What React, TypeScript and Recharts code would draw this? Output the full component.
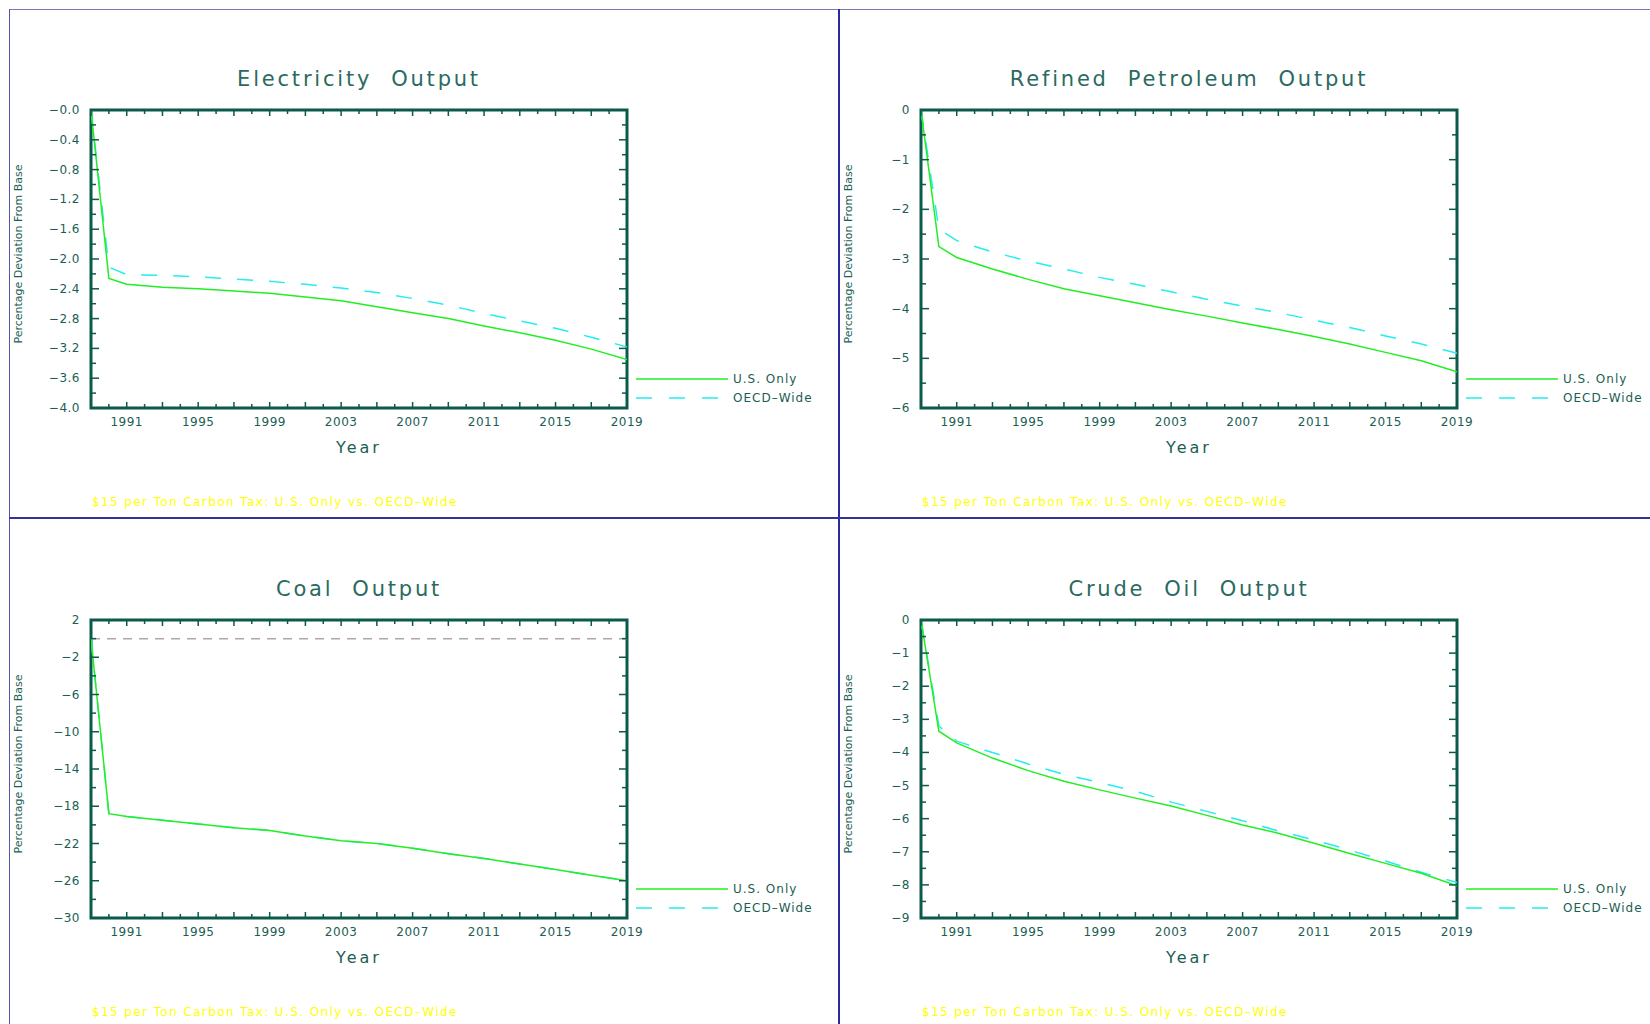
import { Legend, Line, LineChart, ReferenceArea, ReferenceLine, XAxis, YAxis } from "recharts"

const years = [1989, 1990, 1991, 1993, 1995, 1997, 1999, 2001, 2003, 2005, 2007, 2009, 2011, 2013, 2015, 2017, 2019]
const yearLabels = [1991, 1995, 1999, 2003, 2007, 2011, 2015, 2019]

const elecUS = [0, -2.26, -2.34, -2.38, -2.4, -2.43, -2.46, -2.51, -2.56, -2.64, -2.72, -2.8, -2.9, -2.99, -3.09, -3.21, -3.35]
const elecOECD = [0, -2.11, -2.21, -2.22, -2.24, -2.27, -2.3, -2.34, -2.39, -2.45, -2.53, -2.62, -2.73, -2.83, -2.93, -3.05, -3.18]
const elecLabels = [0, -0.4, -0.8, -1.2, -1.6, -2.0, -2.4, -2.8, -3.2, -3.6, -4.0]

const petUS = [0, -2.75, -2.97, -3.2, -3.41, -3.6, -3.74, -3.88, -4.02, -4.15, -4.29, -4.42, -4.56, -4.71, -4.88, -5.05, -5.27]
const petOECD = [0, -2.4, -2.63, -2.86, -3.04, -3.2, -3.37, -3.51, -3.66, -3.81, -3.95, -4.08, -4.23, -4.38, -4.55, -4.71, -4.9]
const petLabels = [0, -1, -2, -3, -4, -5, -6]

const coalUS = [0, -18.8, -19.1, -19.5, -19.9, -20.3, -20.6, -21.2, -21.7, -22.0, -22.5, -23.1, -23.6, -24.2, -24.8, -25.4, -26.0]
const coalOECD = [0, -18.8, -19.1, -19.5, -19.9, -20.3, -20.6, -21.2, -21.7, -22.0, -22.5, -23.1, -23.6, -24.2, -24.8, -25.4, -26.0]
const coalLabels = [2, -2, -6, -10, -14, -18, -22, -26, -30]

const crudeUS = [0, -3.36, -3.71, -4.17, -4.55, -4.87, -5.13, -5.38, -5.62, -5.9, -6.19, -6.44, -6.74, -7.05, -7.35, -7.65, -8.03]
const crudeOECD = [0, -3.2, -3.66, -4.0, -4.35, -4.66, -4.91, -5.17, -5.5, -5.78, -6.06, -6.37, -6.64, -6.95, -7.28, -7.62, -7.93]
const crudeLabels = [0, -1, -2, -3, -4, -5, -6, -7, -8, -9]

const FOOTER = "$15 per Ton Carbon Tax: U.S. Only vs. OECD\u2013Wide"

const TEAL = "#0b5a4c"
const TXT = "#1b5e54"
const GREEN = "#22ee22"
const CYAN = "#22eeee"
const FONT = "'DejaVu Sans', sans-serif"

const PW = 536
const PH = 298

const allYears: number[] = []
for (let y = 1989; y <= 2019; y++) allYears.push(y)

function minus(s: string) {
  return s.replace("-", "\u2212")
}

function YTick(props: any) {
  const { x, y, payload, labels, fmt } = props
  const v = payload.value
  const major = labels.some((l: number) => Math.abs(l - v) < 1e-6)
  const len = major ? 8 : 5
  return (
    <g>
      <line x1={x} x2={x + len} y1={y} y2={y} stroke={TEAL} strokeWidth={1.5} />
      <line x1={x + PW - len} x2={x + PW} y1={y} y2={y} stroke={TEAL} strokeWidth={1.5} />
      {major && (
        <text x={x - 11} y={y + 4} textAnchor="end" fontSize={12} fill={TXT} fontFamily={FONT} letterSpacing={0.5}>
          {fmt(v)}
        </text>
      )}
    </g>
  )
}

function XTick(props: any) {
  const { x, y, payload } = props
  const v = payload.value
  const len = v % 2 === 1 ? 6 : 4
  const labelled = yearLabels.includes(v)
  return (
    <g>
      <line x1={x} x2={x} y1={y} y2={y - len} stroke={TEAL} strokeWidth={1.5} />
      <line x1={x} x2={x} y1={y - PH} y2={y - PH + len} stroke={TEAL} strokeWidth={1.5} />
      {labelled && (
        <text x={x} y={y + 18} textAnchor="middle" fontSize={12} fill={TXT} fontFamily={FONT} letterSpacing={0.5}>
          {v}
        </text>
      )}
    </g>
  )
}

function LegendBox(props: any) {
  const items = props.payload || []
  return (
    <svg width={200} height={40} style={{ display: "block" }}>
      {items.map((p: any, i: number) => (
        <g key={p.value}>
          <line
            x1={0}
            x2={i === 0 ? 92 : 82}
            y1={8 + 19 * i}
            y2={8 + 19 * i}
            stroke={p.color}
            strokeWidth={1.5}
            strokeDasharray={i === 1 ? "16 17" : undefined}
          />
          <text x={97} y={12 + 19 * i} fontSize={12} fill={TXT} fontFamily={FONT} letterSpacing={1}>
            {p.value}
          </text>
        </g>
      ))}
    </svg>
  )
}

type PanelProps = {
  title: string
  us: number[]
  oecd: number[]
  labels: number[]
  step: number
  fmt: (v: number) => string
  zeroLine?: boolean
  left: number
  top: number
}

function Panel({ title, us, oecd, labels, step, fmt, zeroLine, left, top }: PanelProps) {
  const data = years.map((year, i) => ({ year, us: us[i], oecd: oecd[i] }))
  const hi = labels[0]
  const lo = labels[labels.length - 1]
  const ticks: number[] = []
  for (let v = hi; v >= lo - 1e-9; v -= step) ticks.push(Math.round(v * 100) / 100)

  return (
    <div style={{ position: "absolute", left, top, width: 830, height: 510 }}>
      <div
        style={{
          position: "absolute",
          left: 91,
          width: PW,
          top: 67,
          textAlign: "center",
          fontFamily: FONT,
          fontSize: 21,
          letterSpacing: 2.8,
          color: "#2a6a60",
          whiteSpace: "pre",
        }}
      >
        {title}
      </div>
      <LineChart width={830} height={510} data={data} margin={{ top: 110, right: 203, bottom: 72, left: 11 }}>
        <ReferenceArea x1={1989} x2={2019} y1={lo} y2={hi} fill="none" stroke={TEAL} strokeWidth={3} ifOverflow="visible" />
        {zeroLine && <ReferenceLine y={0} stroke="#aaaaaa" strokeWidth={1.5} strokeDasharray="9 7" />}
        <XAxis
          dataKey="year"
          type="number"
          domain={[1989, 2019]}
          ticks={allYears}
          interval={0}
          allowDataOverflow
          axisLine={false}
          tickLine={false}
          tickSize={0}
          tickMargin={0}
          height={30}
          tick={(p: any) => <XTick {...p} />}
          label={{
            content: (lp: any) => (
              <text
                x={lp.viewBox.x + lp.viewBox.width / 2}
                y={lp.viewBox.y + 45}
                textAnchor="middle"
                fontSize={16}
                fill={TXT}
                fontFamily={FONT}
                letterSpacing={3}
              >
                Year
              </text>
            ),
          }}
        />
        <YAxis
          type="number"
          domain={[lo, hi]}
          ticks={ticks}
          interval={0}
          allowDataOverflow
          axisLine={false}
          tickLine={false}
          tickSize={0}
          tickMargin={0}
          width={80}
          tick={(p: any) => <YTick {...p} labels={labels} fmt={fmt} />}
          label={{
            content: (lp: any) => {
              const cx = 22
              const cy = lp.viewBox.y + lp.viewBox.height / 2 - 5
              return (
                <text
                  x={cx}
                  y={cy}
                  transform={`rotate(-90 ${cx} ${cy})`}
                  textAnchor="middle"
                  fontSize={11}
                  fill={TXT}
                  fontFamily={FONT}
                >
                  Percentage Deviation From Base
                </text>
              )
            },
          }}
        />
        <Line
          type="linear"
          dataKey="oecd"
          name={"OECD\u2013Wide"}
          stroke={CYAN}
          strokeWidth={1.5}
          strokeDasharray="16 16"
          dot={false}
          isAnimationActive={false}
          legendType="line"
        />
        <Line
          type="linear"
          dataKey="us"
          name="U.S. Only"
          stroke={GREEN}
          strokeWidth={1.5}
          dot={false}
          isAnimationActive={false}
          legendType="line"
        />
        <Legend
          layout="vertical"
          align="center"
          verticalAlign="middle"
          wrapperStyle={{ left: 636, top: 371, width: 200, height: 40 }}
          content={(lp: any) => {
            const items = [...(lp.payload || [])].reverse()
            return <LegendBox payload={items} />
          }}
        />
      </LineChart>
      <div
        style={{
          position: "absolute",
          left: 92,
          top: 495,
          fontFamily: FONT,
          fontSize: 12,
          letterSpacing: 1.4,
          color: "#ffff00",
          whiteSpace: "pre",
        }}
      >
        {FOOTER}
      </div>
    </div>
  )
}

const fmtOne = (v: number) => "\u2212" + Math.abs(v).toFixed(1)
const fmtInt = (v: number) => minus(String(v))

export default function App() {
  return (
    <div style={{ position: "absolute", left: 0, top: 0, width: 1650, height: 1024, background: "#fff", overflow: "hidden" }}>
      <Panel title="Electricity  Output" us={elecUS} oecd={elecOECD} labels={elecLabels} step={0.2} fmt={fmtOne} left={0} top={0} />
      <Panel title="Refined  Petroleum  Output" us={petUS} oecd={petOECD} labels={petLabels} step={0.5} fmt={fmtInt} left={830} top={0} />
      <Panel title="Coal  Output" us={coalUS} oecd={coalOECD} labels={coalLabels} step={2} fmt={fmtInt} zeroLine left={0} top={510} />
      <Panel title="Crude  Oil  Output" us={crudeUS} oecd={crudeOECD} labels={crudeLabels} step={0.5} fmt={fmtInt} left={830} top={510} />
      <div style={{ position: "absolute", left: 9, top: 9, width: 1641, height: 1, background: "#7777bb" }} />
      <div style={{ position: "absolute", left: 9, top: 9, width: 1, height: 1015, background: "#5555aa" }} />
      <div style={{ position: "absolute", left: 838, top: 9, width: 2, height: 1015, background: "#2a2aa0" }} />
      <div style={{ position: "absolute", left: 9, top: 517, width: 1641, height: 2, background: "#333399" }} />
    </div>
  )
}
